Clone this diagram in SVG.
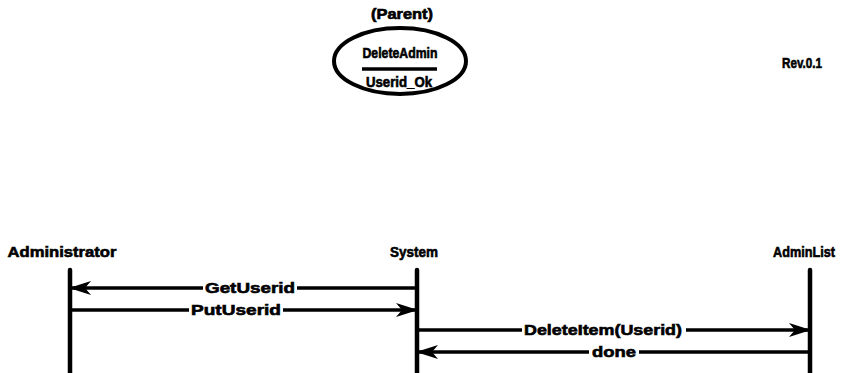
<svg xmlns="http://www.w3.org/2000/svg" width="852" height="373" viewBox="0 0 852 373">
<defs>
<style>
text{font-family:"Liberation Sans",Arial,sans-serif;font-weight:bold;font-size:14px;fill:#000;stroke:#000;stroke-width:0.6px;text-anchor:middle}
.big{font-size:15px}
.life{stroke:#000;stroke-width:4.5;stroke-linecap:round}
.msg{stroke:#000;stroke-width:3.5;fill:none}
.gap{fill:#fff}
</style>
<marker id="ah" viewBox="0 0 22 14" refX="21" refY="7" markerWidth="22" markerHeight="14" markerUnits="userSpaceOnUse" orient="auto">
<path d="M0,0 L22,7 L0,14 L6,7 Z" fill="#000"/>
</marker>
</defs>
<rect width="852" height="373" fill="#fff"/>
<g id="parent">
<text x="402" y="19" textLength="62" lengthAdjust="spacingAndGlyphs">(Parent)</text>
<ellipse cx="400" cy="61" rx="66" ry="33" fill="none" stroke="#000" stroke-width="4"/>
<text x="400" y="58" textLength="75" lengthAdjust="spacingAndGlyphs">DeleteAdmin</text>
<line x1="362" y1="69" x2="437" y2="69" stroke="#000" stroke-width="3.5"/>
<text x="399" y="87" textLength="66" lengthAdjust="spacingAndGlyphs">Userid_Ok</text>
</g>
<g id="rev">
<text x="802" y="68" textLength="40" lengthAdjust="spacingAndGlyphs">Rev.0.1</text>
</g>
<g id="administrator">
<text class="big" x="62" y="257" textLength="109" lengthAdjust="spacingAndGlyphs">Administrator</text>
<line class="life" x1="70" y1="270" x2="70" y2="373"/>
</g>
<g id="system">
<text class="big" x="414" y="257" textLength="48" lengthAdjust="spacingAndGlyphs">System</text>
<line class="life" x1="417" y1="270" x2="417" y2="373"/>
</g>
<g id="adminlist">
<text class="big" x="804" y="257" textLength="62" lengthAdjust="spacingAndGlyphs">AdminList</text>
<line class="life" x1="810" y1="270" x2="810" y2="373"/>
</g>
<g id="connectors">
<line class="msg" x1="417" y1="288" x2="70" y2="288" marker-end="url(#ah)"/>
<rect class="gap" x="203" y="280" width="94" height="16"/>
<text class="big" x="250" y="293" textLength="90" lengthAdjust="spacingAndGlyphs">GetUserid</text>
<line class="msg" x1="70" y1="310" x2="417" y2="310" marker-end="url(#ah)"/>
<rect class="gap" x="189" y="302" width="94" height="16"/>
<text class="big" x="236" y="315" textLength="90" lengthAdjust="spacingAndGlyphs">PutUserid</text>
<line class="msg" x1="417" y1="330" x2="810" y2="330" marker-end="url(#ah)"/>
<rect class="gap" x="522" y="322" width="164" height="16"/>
<text class="big" x="603" y="335" textLength="158" lengthAdjust="spacingAndGlyphs">DeleteItem(Userid)</text>
<line class="msg" x1="810" y1="352" x2="417" y2="352" marker-end="url(#ah)"/>
<rect class="gap" x="589" y="344" width="50" height="16"/>
<text class="big" x="614" y="357" textLength="44" lengthAdjust="spacingAndGlyphs">done</text>
</g>
</svg>
